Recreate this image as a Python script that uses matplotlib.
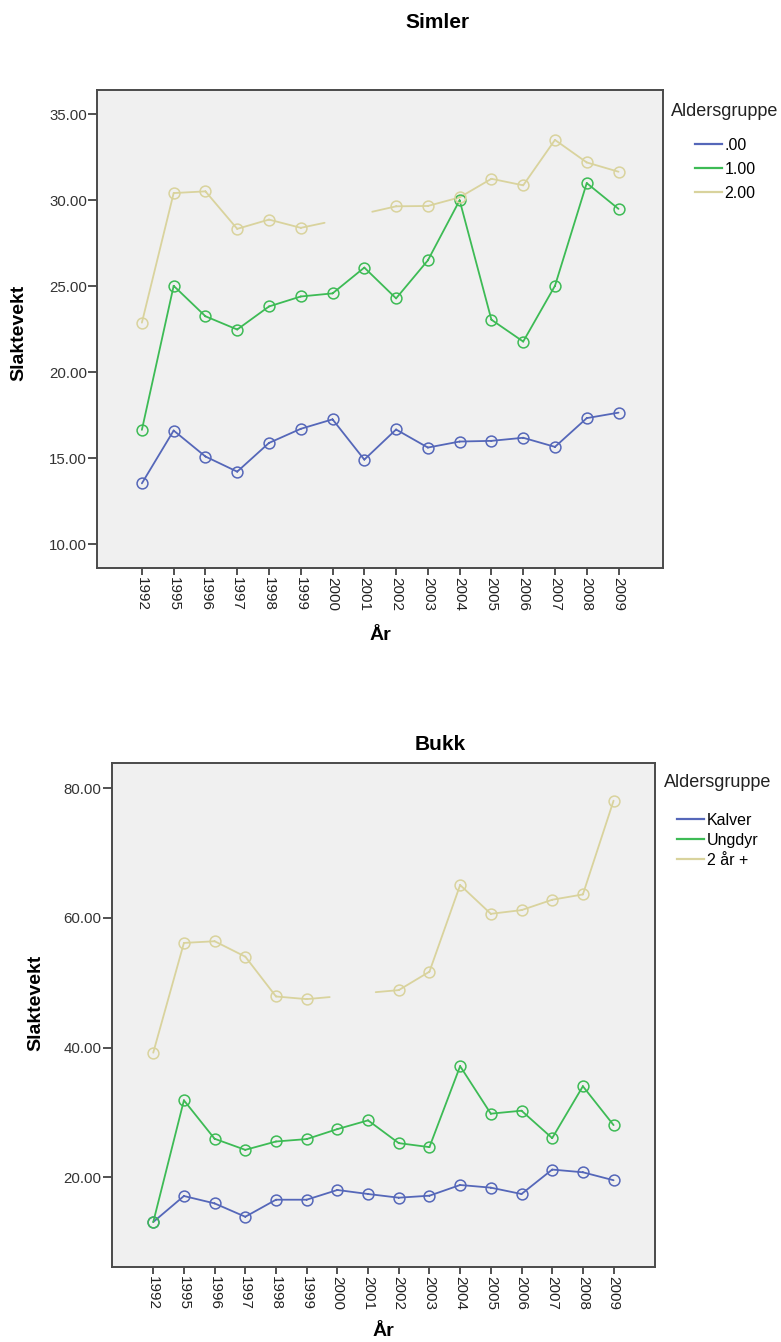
import numpy as np
import matplotlib
matplotlib.use("Agg")
import matplotlib.pyplot as plt
from matplotlib.lines import Line2D

plt.rcParams['font.family'] = ['Liberation Sans', 'DejaVu Sans']

years = ['1992', '1995', '1996', '1997', '1998', '1999', '2000', '2001',
         '2002', '2003', '2004', '2005', '2006', '2007', '2008', '2009']

# Simler (females), mean carcass weight per age group
simler_0 = [13.54, 16.61, 15.10, 14.22, 15.89, 16.71, 17.26, 14.92,
            16.67, 15.62, 15.97, 16.01, 16.19, 15.66, 17.33, 17.65]
simler_1 = [16.65, 25.02, 23.25, 22.48, 23.82, 24.40, 24.58, 26.08,
            24.29, 26.50, 29.99, 23.05, 21.78, 25.02, 30.99, 29.49]
simler_2 = [22.88, 30.41, 30.51, 28.33, 28.87, 28.39, 28.78, 29.22,
            29.64, 29.66, 30.16, 31.24, 30.86, 33.50, 32.19, 31.65]

# Bukk (males)
bukk_0 = [13.10, 17.11, 15.97, 13.91, 16.54, 16.54, 18.04, 17.42,
          16.85, 17.16, 18.81, 18.40, 17.42, 21.19, 20.77, 19.54]
bukk_1 = [13.08, 31.87, 25.94, 24.23, 25.52, 25.89, 27.43, 28.78,
          25.27, 24.65, 37.14, 29.81, 30.27, 26.04, 34.04, 28.05]
bukk_2 = [39.22, 56.15, 56.41, 54.03, 47.89, 47.48, 47.90, 48.45,
          48.87, 51.71, 65.08, 60.64, 61.21, 62.81, 63.63, 78.09]

# years where the oldest group has no plotted point (line is broken)
gap_years = ['2000', '2001']

simler_labels = ['.00', '1.00', '2.00']
bukk_labels = ['Kalver', 'Ungdyr', '2 år +']
colors = ['#5567b9', '#3dbb55', '#d9d39d']

W, H = 781, 1342
fig = plt.figure(figsize=(W / 100, H / 100), dpi=100)


def px_axes(l, t, r, b):
    return fig.add_axes([l / W, 1 - b / H, (r - l) / W, (b - t) / H])


def draw_series(ax, values, color, hidden=()):
    x = np.arange(len(years), dtype=float)
    y = np.asarray(values, dtype=float)
    shown = np.array([yr not in hidden for yr in years])
    xs, ys = [], []
    for i in range(len(x) - 1):
        a, b = shown[i], shown[i + 1]
        if a and b:
            seg = (0.0, 1.0)
        elif a:
            seg = (0.0, 0.75)
        elif b:
            seg = (0.25, 1.0)
        else:
            continue
        for f in seg:
            xs.append(x[i] + f * (x[i + 1] - x[i]))
            ys.append(y[i] + f * (y[i + 1] - y[i]))
        xs.append(np.nan)
        ys.append(np.nan)
    ax.plot(xs, ys, color=color, lw=1.3, solid_capstyle='round', zorder=2)
    ax.plot(x[shown], y[shown], 'o', mfc='none', mec=color, ms=7.8, mew=1.1, zorder=3)


def style_axes(ax, xlim, ylim, yticks):
    ax.set_facecolor('#f0f0f0')
    for s in ax.spines.values():
        s.set_color('#4a4a4a')
        s.set_linewidth(1.4)
    ax.set_xlim(*xlim)
    ax.set_ylim(*ylim)
    ax.set_xticks(np.arange(len(years)))
    ax.set_xticklabels(years, rotation=270, fontsize=11, color='#222222')
    ax.set_yticks(yticks)
    ax.set_yticklabels(['%.2f' % v for v in yticks], fontsize=10.8, color='#333333')
    ax.tick_params(axis='y', length=6.5, width=1.2, pad=1, color='#333333')
    ax.tick_params(axis='x', length=5, width=1.2, pad=1.5, color='#333333')


def legend(labels, title_xy, entry_xy, spacing):
    handles = [Line2D([], [], color=c, lw=1.6) for c in colors]
    fig.text(title_xy[0] / W, 1 - title_xy[1] / H, 'Aldersgruppe',
             fontsize=13, color='#222222', va='center', ha='left')
    fig.legend(handles, labels, loc='upper left',
               bbox_to_anchor=(entry_xy[0] / W, 1 - entry_xy[1] / H),
               frameon=False, fontsize=11.5, handlelength=1.7, handletextpad=0.15,
               labelspacing=spacing, borderpad=0, borderaxespad=0)


# --- Simler ---
ax1 = px_axes(97.4, 90, 663, 567.5)
for vals, c, hid in zip([simler_0, simler_1, simler_2], colors, [(), (), gap_years]):
    draw_series(ax1, vals, c, hid)
style_axes(ax1, (-1.4, 16.4), (8.65, 36.4), [10, 15, 20, 25, 30, 35])
fig.text(437 / W, 1 - 23 / H, 'Simler', fontsize=15, fontweight='bold',
         ha='center', va='center')
fig.text(19 / W, 1 - 333 / H, 'Slaktevekt', fontsize=14, fontweight='bold',
         rotation=90, ha='center', va='center')
fig.text(380 / W, 1 - 636 / H, 'År', fontsize=14, fontweight='bold',
         ha='center', va='center')
legend(simler_labels, (671, 112), (695, 138), 0.55)

# --- Bukk ---
ax2 = px_axes(111.8, 762.7, 655, 1267)
for vals, c, hid in zip([bukk_0, bukk_1, bukk_2], colors, [(), (), gap_years]):
    draw_series(ax2, vals, c, hid)
style_axes(ax2, (-1.35, 16.35), (6.16, 83.95), [20, 40, 60, 80])
fig.text(440 / W, 1 - 744 / H, 'Bukk', fontsize=15, fontweight='bold',
         ha='center', va='center')
fig.text(36 / W, 1 - 1003 / H, 'Slaktevekt', fontsize=14, fontweight='bold',
         rotation=90, ha='center', va='center')
fig.text(383 / W, 1 - 1332 / H, 'År', fontsize=14, fontweight='bold',
         ha='center', va='center')
legend(bukk_labels, (664, 783), (677, 813), 0.3)

fig.savefig('out.png', dpi=100)
